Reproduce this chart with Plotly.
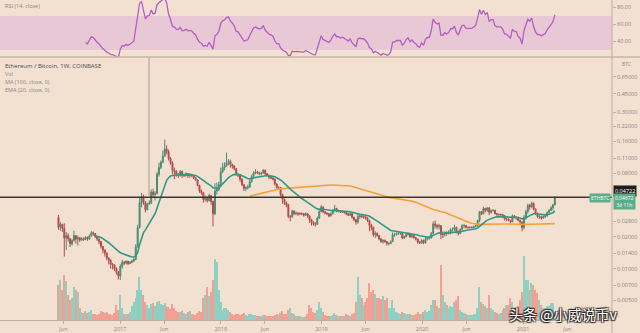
import numpy as np
import pandas as pd
import plotly.graph_objects as go

# ---------------- data (weekly ETH/BTC, Coinbase) ----------------
# prices are in 1/10000 BTC; open of each week = close of previous week
start_week = "2016-05-23"
first_open = 305
close = [245,262,240,195,205,192,172,185,205,190,
         196,186,192,189,198,190,204,218,214,200,
         190,180,162,150,140,126,120,110,108,100,
         92,85,105,115,113,117,112,115,118,122,
         160,245,420,470,420,360,410,415,530,500,
         515,780,900,1010,1150,1350,1280,1100,1000,850,
         830,780,770,830,760,760,790,760,770,760,
         720,690,610,540,520,450,460,440,490,430,
         330,540,560,620,820,900,930,1000,1030,960,
         930,880,780,770,700,620,570,580,590,660,
         740,800,820,800,790,800,850,790,760,730,
         720,700,630,580,580,500,450,420,400,310,
         310,350,330,335,330,330,330,320,330,315,
         290,275,265,262,300,345,380,345,335,330,
         315,330,355,370,350,350,340,345,340,330,
         320,330,305,290,275,310,315,310,310,300,
         285,255,245,210,215,205,190,180,185,180,
         172,173,180,210,210,215,215,215,195,200,
         210,215,200,205,196,190,178,175,185,175,
         190,195,195,215,265,255,250,255,210,210,
         220,215,220,235,235,245,225,215,235,255,
         255,245,245,245,245,250,255,285,345,330,
         370,355,375,340,355,355,330,325,325,325,
         315,295,295,285,277,315,306,305,285,276,
         245,306,345,395,385,415,365,330,310,310,
         300,310,315,340,355,375,400,472]
high = [320,275,265,268,222,215,195,190,228,208,
        206,198,198,197,202,200,210,226,224,217,
        202,192,182,163,152,142,128,123,113,110,
        103,95,110,121,118,120,119,118,122,126,
        170,260,470,520,500,435,420,440,560,570,
        540,820,1000,1050,1300,1650,1460,1330,1130,1030,
        900,850,800,850,840,790,810,800,800,790,
        770,730,700,620,560,530,490,480,510,500,
        440,640,650,660,900,1000,1010,1250,1080,1070,
        980,950,890,800,780,710,630,600,620,690,
        770,830,870,840,820,820,870,860,800,770,
        750,730,710,640,600,590,510,460,430,410,
        320,360,355,345,340,340,340,335,340,335,
        320,295,280,275,310,360,400,390,350,340,
        335,340,365,400,375,360,355,355,350,345,
        335,340,335,310,295,330,330,325,320,315,
        305,290,265,250,225,220,208,195,190,188,
        182,178,185,220,218,220,222,220,218,205,
        215,220,218,210,208,198,192,182,190,188,
        200,200,205,222,280,285,265,265,255,225,
        225,225,230,240,245,260,250,230,240,262,
        265,258,250,250,250,255,260,290,350,350,
        385,375,380,380,360,365,360,335,330,330,
        325,320,300,300,290,325,320,310,310,290,
        280,320,360,410,410,430,420,370,340,320,
        315,315,320,345,365,390,410,480]
low = [232,228,222,130,150,180,160,165,180,172,
       165,179,182,183,186,183,187,200,205,195,
       183,170,155,140,130,120,110,100,98,95,
       88,79,78,100,108,110,108,110,112,115,
       120,158,240,380,400,340,355,400,410,470,
       440,500,740,870,990,1150,1200,1050,960,780,
       700,740,720,740,720,730,740,720,720,730,
       700,670,600,520,500,420,430,420,430,400,
       250,320,500,540,610,800,850,920,950,900,
       880,850,760,730,660,600,540,540,560,580,
       650,730,780,780,760,760,790,760,740,700,
       700,680,610,570,560,480,410,400,380,300,
       280,300,320,320,315,320,320,310,315,300,
       270,255,255,250,258,295,340,335,325,320,
       305,310,325,350,340,340,335,335,330,320,
       315,315,295,280,260,265,295,300,295,290,
       275,225,230,200,195,200,185,175,172,175,
       165,165,170,178,200,205,208,208,190,190,
       197,205,195,195,192,185,172,170,172,170,
       172,185,188,192,212,240,235,235,190,195,
       200,205,210,210,225,225,215,205,212,230,
       240,240,238,240,240,240,245,250,275,320,
       325,340,345,320,330,345,325,315,315,310,
       300,285,280,280,265,275,300,290,280,260,
       225,235,290,330,360,375,355,320,300,295,
       290,295,300,310,335,350,355,395]
# weekly volume, in units of 10k ETH (approximate)
volume = [35,40,30,45,39,25,20,22,33,30,
          28,12,8,7,9,7,8,10,6,6,
          5,6,9,8,7,8,6,6,5,7,
          15,10,25,12,6,6,6,8,14,18,
          22,30,43,30,25,18,15,12,16,17,
          14,18,19,16,15,17,14,13,11,16,
          12,9,8,8,9,7,6,8,9,6,
          6,5,7,9,8,22,25,33,24,28,
          40,61,58,30,18,10,12,12,10,8,
          6,5,6,6,5,6,7,5,4,6,
          6,5,5,4,4,4,5,5,4,4,
          4,4,5,6,5,7,9,6,6,10,
          12,7,6,4,4,4,3,3,4,6,
          15,12,8,7,10,18,12,8,5,4,
          4,4,5,7,5,4,4,4,4,6,
          5,4,6,7,18,43,25,22,15,18,
          22,37,28,30,26,22,22,21,24,20,
          22,12,12,20,12,8,7,6,8,7,
          6,6,6,5,5,6,8,6,6,8,
          10,8,9,15,20,20,14,12,55,25,
          18,15,12,14,13,18,20,24,10,8,
          7,6,5,5,5,6,6,12,33,18,
          16,14,12,25,12,10,8,7,6,7,
          10,12,15,15,22,18,12,10,14,20,
          28,64,40,40,30,37,35,30,27,20,
          15,12,12,14,14,17,17,8]

price_ticks = [0.65, 0.45, 0.30, 0.22, 0.16, 0.11, 0.08, 0.028, 0.020, 0.014, 0.010, 0.007, 0.005]
rsi_ticks = [80, 60, 40]
rsi_tick_text = ["80.00", "60.00", "40.00"]
x_tick_dates = ["2016-06-10", "2017-01-01", "2017-06-10", "2018-01-01", "2018-06-10", "2019-01-01",
                "2019-06-10", "2020-01-01", "2020-06-10", "2021-01-01", "2021-06-10"]
x_tick_text = ["Jun", "2017", "Jun", "2018", "Jun", "2019", "Jun", "2020", "Jun", "2021", "Jun"]
hline_price = 0.04722
vline_date = "2017-04-16"

# ---------------- derived series ----------------
n = len(close)
dates = pd.date_range(start_week, periods=n, freq="7D")
c = np.array(close, float) / 1e4
h = np.array(high, float) / 1e4
l = np.array(low, float) / 1e4
o = np.concatenate([[first_open / 1e4], c[:-1]])
up = c >= o

def rma(x, p):
    out = np.full(len(x), np.nan)
    out[p - 1] = x[:p].mean()
    for i in range(p, len(x)):
        out[i] = (out[i - 1] * (p - 1) + x[i]) / p
    return out

d = np.diff(c)
g = rma(np.clip(d, 0, None), 14)
ls = rma(np.clip(-d, 0, None), 14)
rsi = np.concatenate([[np.nan], 100 - 100 / (1 + g / ls)])

ema = np.full(n, np.nan)
ema[19] = c[:20].mean()
a = 2 / 21
for i in range(20, n):
    ema[i] = a * c[i] + (1 - a) * ema[i - 1]

sma = pd.Series(c).rolling(100).mean().values

# ---------------- styling ----------------
BG = "#f2e0d1"
AX = "#bfae9f"
TXT = "#8a8580"
PW, PH = 612.0, 320.0
def px(x): return x / PW
def py(y): return 1 - y / PH

MAIN_TOP = 58.0
main_dom = [0, (PH - MAIN_TOP) / PH]
rsi_dom = [(PH - 57.0) / PH, 1]
y_lo, y_hi = -2.485, -0.0109
x_range = ["2015-10-24", "2021-11-19"]

fig = go.Figure()

fig.add_trace(go.Bar(
    x=dates, y=volume, yaxis="y3",
    marker=dict(color=["#8fd0c2" if u else "#f2a093" for u in up], line=dict(width=0)),
    width=7 * 24 * 3600 * 1000 * 0.75, hoverinfo="skip"))

fig.add_trace(go.Candlestick(
    x=dates, open=o, high=h, low=l, close=c,
    increasing=dict(line=dict(color="#4f8a70", width=1), fillcolor="#4f8a70"),
    decreasing=dict(line=dict(color="#b54a4a", width=1), fillcolor="#b54a4a"),
    whiskerwidth=0, hoverinfo="skip"))

fig.add_trace(go.Scatter(x=dates, y=sma, mode="lines",
                         line=dict(color="#f2a23c", width=1.6), hoverinfo="skip"))
fig.add_trace(go.Scatter(x=dates, y=ema, mode="lines",
                         line=dict(color="#2e9a86", width=1.6), hoverinfo="skip"))

fig.add_trace(go.Scatter(x=[x_range[0], x_range[1]], y=[hline_price, hline_price], mode="lines",
                         line=dict(color="#3b3633", width=1.5), hoverinfo="skip"))
fig.add_trace(go.Scatter(x=[vline_date, vline_date], y=[hline_price, 10 ** y_hi], mode="lines",
                         line=dict(color="#a39b95", width=1), hoverinfo="skip"))

fig.add_trace(go.Scatter(x=dates, y=rsi, yaxis="y2", mode="lines",
                         line=dict(color="#b45ec4", width=1.3), hoverinfo="skip"))

shapes = [
    dict(type="rect", xref="paper", yref="y2", x0=0, x1=1, y0=30, y1=70,
         fillcolor="#e8c8d4", line=dict(width=0), layer="below"),
    dict(type="line", xref="paper", yref="paper", x0=0, x1=640 / PW, y0=py(57), y1=py(57),
         line=dict(color="#c9b6a6", width=1.5)),
    dict(type="line", xref="paper", yref="paper", x0=1, x1=1, y0=py(333), y1=1,
         line=dict(color=AX, width=1)),
]

ann = []
def label(x, y, text, size=6, color=TXT, xanchor="left", **kw):
    ann.append(dict(xref="paper", yref="paper", x=px(x), y=py(y), text=text, showarrow=False,
                    xanchor=xanchor, yanchor="middle", font=dict(size=size, color=color,
                    family="Open Sans"), **kw))

label(3, 6, "RSI (14, close)", 5.5, "#8d8783")
label(3, 66, "Ethereum / Bitcoin, 1W, COINBASE", 6, "#4e4a47")
label(3, 74, "Vol", 5.5, "#8d8783")
label(3, 82, "MA (100, close, 0)", 5.5, "#8d8783")
label(3, 90, "EMA (20, close, 0)", 5.5, "#8d8783")
label(620, 64, "BTC", 5, "#8d8783")
label(613, 191, "0.04722", 5.5, "#ffffff", bgcolor="#1f1d1c", borderpad=1)
label(611, 198, "ETHBTC", 5, "#ffffff", xanchor="right", bgcolor="#5aae8a", borderpad=1)
label(613, 201, "0.04672<br>3d 11h", 5, "#ffffff", bgcolor="#5aae8a", borderpad=1)

# watermark (white text with a dark outline)
wm = "头条 @小威说币v"
wm_x, wm_y, wm_size = 563, 314, 14
try:
    go.layout.Annotation(font=dict(shadow="1px 1px 2px #222"))
    ann.append(dict(xref="paper", yref="paper", x=px(wm_x), y=py(wm_y), text=wm, showarrow=False,
                    xanchor="center", yanchor="middle",
                    font=dict(size=wm_size, color="#ffffff", family="Noto Sans CJK SC",
                              shadow="1px 1px 1px #2a2521, -1px -1px 1px #2a2521, 1px -1px 1px #2a2521, -1px 1px 1px #2a2521")))
except Exception:
    for dx, dy in [(-1, 0), (1, 0), (0, -1), (0, 1)]:
        ann.append(dict(xref="paper", yref="paper", x=px(wm_x + dx), y=py(wm_y + dy), text=wm,
                        showarrow=False, xanchor="center", yanchor="middle",
                        font=dict(size=wm_size, color="rgba(40,35,30,0.85)", family="Noto Sans CJK SC")))
    ann.append(dict(xref="paper", yref="paper", x=px(wm_x), y=py(wm_y), text=wm, showarrow=False,
                    xanchor="center", yanchor="middle",
                    font=dict(size=wm_size, color="#ffffff", family="Noto Sans CJK SC")))

fig.update_layout(
    width=640, height=333, margin=dict(l=0, r=28, t=0, b=13),
    paper_bgcolor=BG, plot_bgcolor=BG, showlegend=False, bargap=0,
    font=dict(family="Open Sans", size=6, color=TXT),
    xaxis=dict(type="date", range=x_range, rangeslider=dict(visible=False),
               tickvals=x_tick_dates, ticktext=x_tick_text, ticks="outside", ticklen=3,
               tickcolor=AX, tickfont=dict(size=5.5, color=TXT), showgrid=False,
               zeroline=False, showline=True, linecolor=AX, linewidth=1, anchor="y"),
    yaxis=dict(type="log", domain=main_dom, range=[y_lo, y_hi], side="right",
               tickvals=price_ticks, ticktext=[f"{v:.5f}" for v in price_ticks],
               ticks="outside", ticklen=3, tickcolor=AX, tickfont=dict(size=5.5, color=TXT),
               showgrid=False, zeroline=False, showline=False),
    yaxis2=dict(domain=rsi_dom, range=[21.8, 88.8], side="right", anchor="x",
                tickvals=rsi_ticks, ticktext=rsi_tick_text, ticks="outside", ticklen=3,
                tickcolor=AX, tickfont=dict(size=5.5, color=TXT),
                showgrid=False, zeroline=False, showline=False),
    yaxis3=dict(overlaying="y", range=[0, PH - MAIN_TOP], visible=False),
    shapes=shapes, annotations=ann,
)

fig.write_html("out.html")
